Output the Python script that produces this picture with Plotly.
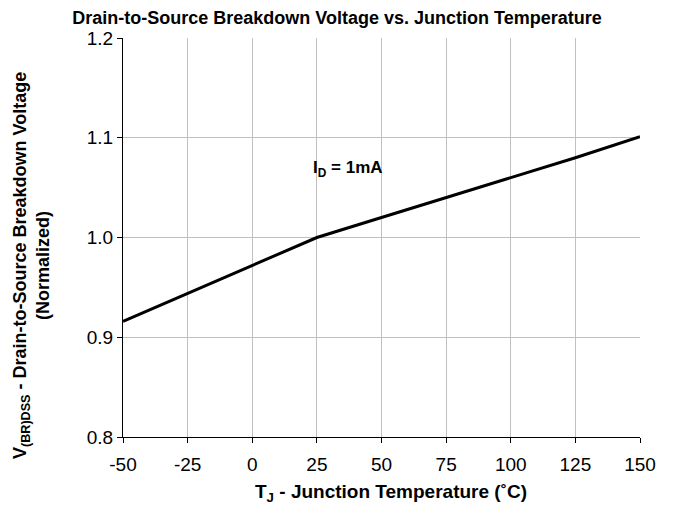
import plotly.graph_objects as go

temps = [-50, -25, 0, 25, 50, 75, 100, 125, 150]
bvdss = [0.916, 0.944, 0.972, 1.0, 1.02, 1.04, 1.06, 1.08, 1.101]
x_ticks = [-50, -25, 0, 25, 50, 75, 100, 125, 150]
x_tick_labels = ["-50", "-25", "0", "25", "50", "75", "100", "125", "150"]
y_ticks = [0.8, 0.9, 1.0, 1.1, 1.2]
y_tick_labels = ["0.8", "0.9", "1.0", "1.1", "1.2"]

font = "Liberation Sans, Arial, sans-serif"

fig = go.Figure()
fig.add_trace(go.Scatter(x=temps, y=bvdss, mode="lines",
                         line=dict(color="black", width=3), showlegend=False))

fig.add_annotation(x=37, y=1.069, text="<b>I<sub>D</sub> = 1mA</b>", showarrow=False,
                   font=dict(family=font, size=17, color="black"))

fig.add_annotation(xref="paper", yref="paper", x=-0.178, y=0.431, textangle=-90,
                   text="<b>V<sub>(BR)DSS</sub> - Drain-to-Source Breakdown Voltage<br>(Normalized)</b>",
                   showarrow=False, xanchor="center", yanchor="middle",
                   font=dict(family=font, size=18, color="black"))

fig.add_annotation(xref="paper", yref="paper", x=0.518, y=-0.140,
                   text="<b>T<sub>J</sub> - Junction Temperature (˚C)</b>",
                   showarrow=False, xanchor="center", yanchor="middle",
                   font=dict(family=font, size=19, color="black"))

fig.update_layout(
    width=673, height=508,
    margin=dict(l=115, r=41, t=30, b=79),
    paper_bgcolor="white", plot_bgcolor="white",
    title=dict(text="<b>Drain-to-Source Breakdown Voltage vs. Junction Temperature</b>",
               x=329 / 673, xref="container", xanchor="center",
               y=1 - 10 / 508, yref="container", yanchor="middle",
               font=dict(family=font, size=18, color="black")),
    font=dict(family=font, color="black"),
)
fig.update_xaxes(range=[-50, 150], tickvals=x_ticks, ticktext=x_tick_labels,
                 ticks="outside", ticklen=5, ticklabelstandoff=5,
                 tickcolor="black", showline=True, linecolor="black", linewidth=1,
                 showgrid=True, gridcolor="#c0c0c0", gridwidth=1, zeroline=False,
                 tickfont=dict(family=font, size=19, color="black"))
fig.update_yaxes(range=[0.8, 1.2], tickvals=y_ticks, ticktext=y_tick_labels, ticks="outside",
                 ticklen=5, tickcolor="black", showline=True, linecolor="black", linewidth=1,
                 showgrid=True, gridcolor="#c0c0c0", gridwidth=1, zeroline=False,
                 tickfont=dict(family=font, size=19, color="black"))

fig.write_html("out.html")
